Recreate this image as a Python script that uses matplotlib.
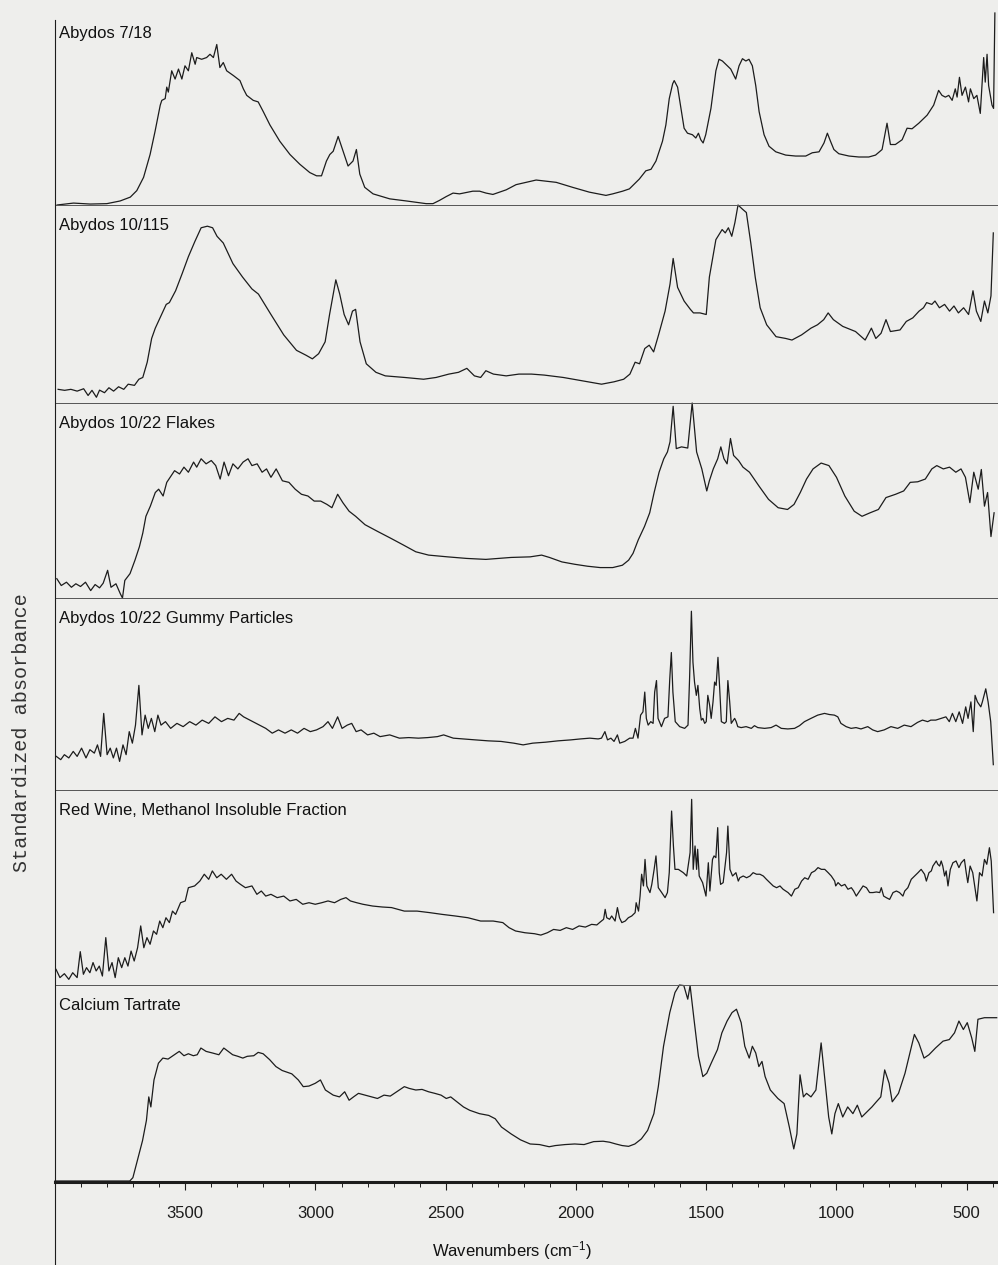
import numpy as np
import matplotlib
matplotlib.use("Agg")
import matplotlib.pyplot as plt
from matplotlib.lines import Line2D
from matplotlib.ticker import MultipleLocator

plt.rcParams['font.family'] = ['Liberation Sans', 'DejaVu Sans']
plt.rcParams['mathtext.fontset'] = 'custom'
plt.rcParams['mathtext.rm'] = 'Liberation Sans'
plt.rcParams['mathtext.it'] = 'Liberation Sans:italic'

# spectra: wavenumber (cm-1) and standardized absorbance (0..1 within panel)
p1_wn = [3992, 3929, 3865, 3801, 3750, 3711, 3686, 3660, 3635, 3616, 3596, 3590, 3577, 3571, 3565,
         3552, 3539, 3526, 3513, 3501, 3488, 3475, 3462, 3456, 3437, 3418, 3405, 3392, 3379, 3367,
         3354, 3341, 3315, 3290, 3277, 3264, 3239, 3220, 3200, 3175, 3137, 3098, 3060, 3022, 2996,
         2977, 2958, 2945, 2932, 2913, 2894, 2875, 2856, 2843, 2830, 2811, 2779, 2715, 2651, 2575,
         2549, 2524, 2498, 2472, 2447, 2396, 2370, 2345, 2319, 2268, 2230, 2153, 2076, 2013, 1949,
         1885, 1859, 1821, 1795, 1757, 1732, 1712, 1693, 1668, 1655, 1642, 1629, 1623, 1610, 1597,
         1585, 1572, 1553, 1540, 1530, 1521, 1512, 1502, 1482, 1463, 1451, 1438, 1425, 1406, 1387,
         1374, 1361, 1348, 1336, 1323, 1310, 1297, 1278, 1259, 1233, 1195, 1157, 1118, 1093, 1067,
         1048, 1035, 1023, 1010, 991, 952, 914, 876, 850, 825, 806, 793, 774, 748, 729,
         710, 684, 652, 627, 608, 595, 582, 569, 556, 544, 537, 528, 518, 505, 493,
         486, 473, 461, 448, 435, 429, 422, 416, 403, 397, 392]
p1_abs = [0.000, 0.010, 0.005, 0.007, 0.021, 0.041, 0.075, 0.144, 0.263, 0.383, 0.520, 0.545, 0.554, 0.614, 0.588,
          0.699, 0.656, 0.708, 0.656, 0.725, 0.699, 0.793, 0.733, 0.768, 0.759, 0.768, 0.785, 0.768, 0.836, 0.716,
          0.742, 0.699, 0.674, 0.648, 0.605, 0.571, 0.545, 0.537, 0.485, 0.417, 0.332, 0.263, 0.212, 0.169, 0.152,
          0.152, 0.229, 0.263, 0.280, 0.357, 0.280, 0.203, 0.229, 0.289, 0.161, 0.092, 0.058, 0.032, 0.021, 0.007,
          0.007, 0.024, 0.044, 0.062, 0.058, 0.072, 0.072, 0.062, 0.055, 0.079, 0.106, 0.130, 0.118, 0.092, 0.067,
          0.050, 0.058, 0.072, 0.084, 0.135, 0.178, 0.186, 0.229, 0.332, 0.417, 0.554, 0.631, 0.648, 0.614, 0.503,
          0.400, 0.374, 0.366, 0.349, 0.374, 0.340, 0.323, 0.366, 0.503, 0.699, 0.759, 0.750, 0.733, 0.708, 0.656,
          0.725, 0.762, 0.750, 0.759, 0.725, 0.622, 0.486, 0.366, 0.306, 0.277, 0.260, 0.255, 0.255, 0.272, 0.277,
          0.323, 0.374, 0.332, 0.289, 0.267, 0.255, 0.250, 0.250, 0.260, 0.289, 0.426, 0.315, 0.315, 0.340, 0.400,
          0.397, 0.426, 0.468, 0.520, 0.597, 0.571, 0.562, 0.571, 0.545, 0.605, 0.562, 0.665, 0.571, 0.614, 0.537,
          0.605, 0.554, 0.571, 0.477, 0.768, 0.640, 0.785, 0.622, 0.520, 0.503, 1.000]

p2_wn = [3988, 3963, 3939, 3915, 3890, 3873, 3858, 3841, 3829, 3810, 3793, 3775, 3756, 3736, 3719,
         3695, 3678, 3663, 3646, 3629, 3615, 3597, 3573, 3561, 3537, 3512, 3488, 3463, 3439, 3415,
         3395, 3378, 3354, 3317, 3280, 3244, 3219, 3171, 3122, 3073, 3036, 3012, 2988, 2963, 2946,
         2932, 2922, 2907, 2890, 2873, 2858, 2846, 2829, 2805, 2768, 2732, 2658, 2585, 2537, 2488,
         2451, 2419, 2390, 2366, 2346, 2317, 2268, 2219, 2171, 2122, 2049, 1976, 1902, 1854, 1817,
         1793, 1773, 1756, 1736, 1719, 1702, 1683, 1658, 1639, 1627, 1610, 1585, 1561, 1549, 1524,
         1500, 1488, 1463, 1439, 1427, 1415, 1402, 1390, 1378, 1361, 1346, 1329, 1312, 1293, 1268,
         1232, 1195, 1171, 1134, 1098, 1073, 1049, 1032, 1012, 976, 927, 890, 866, 849, 829,
         810, 793, 756, 732, 707, 683, 666, 654, 634, 622, 605, 585, 566, 549, 532,
         512, 493, 476, 463, 446, 432, 419, 407, 398]
p2_abs = [0.069, 0.064, 0.069, 0.060, 0.072, 0.038, 0.064, 0.029, 0.065, 0.052, 0.077, 0.060, 0.082, 0.069, 0.095,
          0.089, 0.120, 0.129, 0.206, 0.326, 0.378, 0.430, 0.498, 0.507, 0.567, 0.653, 0.739, 0.816, 0.885, 0.893,
          0.885, 0.842, 0.808, 0.704, 0.636, 0.576, 0.550, 0.447, 0.344, 0.266, 0.241, 0.223, 0.249, 0.309, 0.447,
          0.550, 0.622, 0.550, 0.447, 0.395, 0.464, 0.473, 0.309, 0.198, 0.155, 0.137, 0.129, 0.120, 0.129, 0.146,
          0.155, 0.175, 0.137, 0.129, 0.163, 0.146, 0.137, 0.146, 0.146, 0.141, 0.129, 0.112, 0.095, 0.107, 0.120,
          0.146, 0.206, 0.198, 0.275, 0.292, 0.258, 0.344, 0.464, 0.601, 0.730, 0.584, 0.515, 0.473, 0.455, 0.455,
          0.447, 0.636, 0.825, 0.876, 0.859, 0.885, 0.842, 0.911, 1.000, 0.979, 0.962, 0.808, 0.636, 0.481, 0.395,
          0.335, 0.326, 0.318, 0.344, 0.378, 0.395, 0.421, 0.455, 0.421, 0.387, 0.361, 0.318, 0.378, 0.326, 0.352,
          0.421, 0.361, 0.369, 0.412, 0.430, 0.464, 0.481, 0.507, 0.498, 0.515, 0.481, 0.498, 0.464, 0.490, 0.455,
          0.481, 0.447, 0.567, 0.464, 0.412, 0.515, 0.455, 0.541, 0.859]

p3_wn = [3993, 3976, 3956, 3937, 3920, 3902, 3883, 3863, 3846, 3829, 3815, 3798, 3785, 3766, 3749,
         3741, 3732, 3712, 3693, 3676, 3663, 3651, 3634, 3615, 3602, 3585, 3571, 3554, 3541, 3522,
         3505, 3488, 3468, 3456, 3439, 3420, 3400, 3383, 3366, 3351, 3334, 3317, 3298, 3278, 3259,
         3244, 3224, 3205, 3188, 3171, 3151, 3127, 3102, 3078, 3054, 3029, 3005, 2980, 2956, 2937,
         2915, 2895, 2871, 2846, 2810, 2761, 2712, 2663, 2615, 2566, 2493, 2420, 2346, 2249, 2176,
         2132, 2102, 2054, 2005, 1956, 1907, 1859, 1822, 1798, 1781, 1761, 1737, 1717, 1700, 1681,
         1663, 1649, 1639, 1627, 1615, 1595, 1571, 1554, 1537, 1517, 1498, 1488, 1473, 1456, 1444,
         1432, 1420, 1407, 1395, 1376, 1359, 1334, 1298, 1261, 1224, 1188, 1163, 1139, 1115, 1090,
         1059, 1029, 1000, 968, 932, 902, 871, 839, 810, 773, 742, 717, 688, 659, 634,
         615, 590, 566, 542, 522, 505, 488, 473, 456, 444, 432, 420, 407, 395]
p3_abs = [0.099, 0.064, 0.081, 0.055, 0.073, 0.059, 0.081, 0.038, 0.069, 0.052, 0.076, 0.142, 0.055, 0.073, 0.021,
          0.000, 0.090, 0.125, 0.194, 0.263, 0.333, 0.419, 0.471, 0.541, 0.558, 0.523, 0.593, 0.627, 0.653, 0.636,
          0.671, 0.645, 0.697, 0.671, 0.714, 0.688, 0.705, 0.679, 0.610, 0.697, 0.627, 0.688, 0.662, 0.697, 0.714,
          0.679, 0.688, 0.645, 0.662, 0.619, 0.662, 0.601, 0.593, 0.558, 0.532, 0.523, 0.497, 0.497, 0.480, 0.463,
          0.532, 0.489, 0.445, 0.419, 0.376, 0.341, 0.307, 0.272, 0.237, 0.220, 0.211, 0.203, 0.198, 0.208, 0.211,
          0.220, 0.208, 0.185, 0.173, 0.163, 0.156, 0.156, 0.168, 0.194, 0.229, 0.298, 0.367, 0.437, 0.541, 0.645,
          0.714, 0.749, 0.801, 0.983, 0.766, 0.775, 0.769, 1.000, 0.749, 0.662, 0.549, 0.601, 0.662, 0.714, 0.775,
          0.714, 0.688, 0.818, 0.731, 0.705, 0.671, 0.645, 0.575, 0.506, 0.463, 0.454, 0.480, 0.541, 0.610, 0.662,
          0.692, 0.679, 0.619, 0.523, 0.445, 0.419, 0.437, 0.454, 0.515, 0.532, 0.549, 0.593, 0.596, 0.610, 0.662,
          0.679, 0.662, 0.671, 0.645, 0.662, 0.619, 0.489, 0.645, 0.558, 0.659, 0.471, 0.541, 0.315, 0.437]

p4_wn = [3995, 3978, 3964, 3947, 3930, 3915, 3898, 3881, 3866, 3849, 3837, 3825, 3813, 3800, 3788,
         3776, 3764, 3752, 3739, 3727, 3715, 3703, 3691, 3678, 3666, 3654, 3642, 3630, 3617, 3605,
         3593, 3576, 3556, 3532, 3508, 3483, 3459, 3435, 3410, 3386, 3361, 3337, 3313, 3293, 3276,
         3252, 3215, 3191, 3166, 3142, 3117, 3093, 3069, 3044, 3020, 2996, 2971, 2952, 2935, 2915,
         2898, 2878, 2861, 2844, 2825, 2800, 2776, 2752, 2715, 2678, 2642, 2605, 2569, 2532, 2508,
         2471, 2435, 2386, 2337, 2288, 2239, 2203, 2166, 2117, 2069, 2020, 1983, 1947, 1915, 1902,
         1889, 1879, 1866, 1854, 1841, 1832, 1813, 1794, 1781, 1772, 1762, 1752, 1743, 1736, 1730,
         1723, 1713, 1704, 1698, 1691, 1685, 1672, 1660, 1647, 1640, 1634, 1628, 1619, 1602, 1583,
         1570, 1564, 1557, 1551, 1545, 1538, 1532, 1525, 1519, 1513, 1506, 1500, 1494, 1487, 1481,
         1474, 1468, 1462, 1455, 1449, 1442, 1430, 1423, 1417, 1410, 1404, 1391, 1385, 1379, 1366,
         1347, 1327, 1315, 1302, 1276, 1251, 1232, 1212, 1187, 1161, 1142, 1123, 1098, 1072, 1046,
         1027, 1008, 995, 983, 963, 944, 925, 906, 880, 861, 842, 817, 791, 765, 740,
         714, 689, 670, 650, 638, 619, 599, 580, 567, 555, 542, 529, 516, 504, 495,
         484, 475, 468, 459, 446, 440, 427, 418, 408, 398]
p4_abs = [0.175, 0.158, 0.184, 0.167, 0.201, 0.175, 0.218, 0.167, 0.210, 0.192, 0.235, 0.175, 0.399, 0.184, 0.218,
          0.167, 0.218, 0.149, 0.235, 0.184, 0.304, 0.244, 0.338, 0.545, 0.287, 0.390, 0.321, 0.373, 0.304, 0.390,
          0.338, 0.356, 0.321, 0.347, 0.330, 0.356, 0.338, 0.364, 0.347, 0.381, 0.356, 0.373, 0.364, 0.399, 0.381,
          0.364, 0.338, 0.321, 0.296, 0.313, 0.296, 0.313, 0.296, 0.321, 0.304, 0.313, 0.330, 0.356, 0.321, 0.381,
          0.321, 0.338, 0.347, 0.304, 0.313, 0.287, 0.296, 0.278, 0.287, 0.270, 0.273, 0.270, 0.273, 0.278, 0.287,
          0.270, 0.266, 0.261, 0.256, 0.253, 0.244, 0.235, 0.244, 0.249, 0.256, 0.261, 0.266, 0.270, 0.266, 0.270,
          0.304, 0.261, 0.270, 0.253, 0.287, 0.244, 0.253, 0.270, 0.270, 0.321, 0.270, 0.390, 0.407, 0.510, 0.373,
          0.338, 0.356, 0.347, 0.510, 0.570, 0.373, 0.330, 0.373, 0.381, 0.579, 0.716, 0.510, 0.356, 0.330, 0.321,
          0.338, 0.579, 0.931, 0.665, 0.562, 0.493, 0.545, 0.424, 0.364, 0.373, 0.347, 0.356, 0.493, 0.442, 0.373,
          0.459, 0.562, 0.545, 0.691, 0.545, 0.356, 0.347, 0.356, 0.570, 0.459, 0.347, 0.373, 0.356, 0.330, 0.325,
          0.330, 0.321, 0.335, 0.325, 0.321, 0.325, 0.338, 0.321, 0.318, 0.321, 0.335, 0.356, 0.373, 0.390, 0.399,
          0.393, 0.390, 0.381, 0.347, 0.330, 0.321, 0.325, 0.318, 0.330, 0.313, 0.304, 0.313, 0.330, 0.321, 0.338,
          0.330, 0.352, 0.364, 0.356, 0.364, 0.364, 0.373, 0.381, 0.356, 0.399, 0.356, 0.407, 0.347, 0.433, 0.373,
          0.459, 0.304, 0.493, 0.459, 0.433, 0.459, 0.527, 0.459, 0.356, 0.132]

p5_wn = [3996, 3981, 3964, 3947, 3932, 3915, 3903, 3891, 3879, 3866, 3854, 3842, 3830, 3818, 3805,
         3793, 3781, 3769, 3757, 3744, 3732, 3720, 3708, 3696, 3683, 3671, 3659, 3647, 3635, 3622,
         3610, 3598, 3586, 3574, 3561, 3549, 3537, 3518, 3500, 3488, 3464, 3444, 3427, 3410, 3396,
         3379, 3362, 3342, 3322, 3305, 3288, 3269, 3244, 3225, 3208, 3191, 3171, 3147, 3122, 3098,
         3074, 3049, 3025, 3001, 2976, 2952, 2927, 2903, 2883, 2866, 2842, 2818, 2781, 2744, 2708,
         2659, 2610, 2561, 2513, 2464, 2415, 2366, 2318, 2281, 2257, 2232, 2196, 2159, 2135, 2110,
         2086, 2061, 2037, 2013, 1988, 1964, 1940, 1920, 1907, 1894, 1888, 1882, 1871, 1863, 1850,
         1841, 1833, 1824, 1811, 1799, 1786, 1773, 1769, 1760, 1754, 1748, 1741, 1735, 1728, 1722,
         1716, 1709, 1700, 1693, 1684, 1671, 1658, 1649, 1642, 1633, 1626, 1620, 1607, 1588, 1575,
         1562, 1556, 1550, 1543, 1537, 1533, 1527, 1514, 1501, 1492, 1486, 1476, 1470, 1463, 1456,
         1450, 1445, 1435, 1422, 1417, 1409, 1399, 1386, 1377, 1371, 1358, 1345, 1332, 1320, 1307,
         1294, 1281, 1269, 1256, 1243, 1230, 1217, 1205, 1186, 1173, 1160, 1147, 1134, 1122, 1109,
         1096, 1083, 1071, 1058, 1045, 1032, 1020, 1007, 1003, 994, 981, 968, 956, 943, 934,
         924, 911, 898, 885, 873, 860, 847, 834, 828, 819, 809, 796, 783, 770, 758,
         745, 738, 726, 713, 700, 687, 675, 662, 655, 645, 636, 630, 617, 611, 604,
         598, 592, 585, 579, 572, 563, 553, 541, 530, 521, 509, 502, 496, 487, 477,
         461, 451, 441, 432, 423, 413, 406, 397]
p5_abs = [0.080, 0.038, 0.058, 0.029, 0.063, 0.038, 0.171, 0.055, 0.089, 0.063, 0.115, 0.072, 0.097, 0.046, 0.243,
          0.072, 0.115, 0.038, 0.140, 0.089, 0.140, 0.097, 0.174, 0.123, 0.191, 0.303, 0.191, 0.243, 0.209, 0.277,
          0.260, 0.328, 0.294, 0.345, 0.320, 0.379, 0.362, 0.422, 0.431, 0.499, 0.508, 0.533, 0.568, 0.542, 0.585,
          0.550, 0.568, 0.542, 0.568, 0.533, 0.516, 0.499, 0.508, 0.465, 0.482, 0.456, 0.465, 0.448, 0.456, 0.431,
          0.439, 0.414, 0.422, 0.414, 0.422, 0.431, 0.422, 0.439, 0.448, 0.431, 0.422, 0.414, 0.405, 0.400, 0.397,
          0.379, 0.379, 0.371, 0.362, 0.354, 0.345, 0.328, 0.328, 0.320, 0.294, 0.277, 0.268, 0.263, 0.256, 0.268,
          0.285, 0.280, 0.294, 0.285, 0.303, 0.297, 0.311, 0.308, 0.323, 0.337, 0.388, 0.345, 0.337, 0.354, 0.328,
          0.397, 0.345, 0.320, 0.328, 0.345, 0.354, 0.371, 0.422, 0.379, 0.456, 0.568, 0.508, 0.644, 0.508, 0.491,
          0.474, 0.516, 0.593, 0.662, 0.499, 0.474, 0.448, 0.474, 0.576, 0.892, 0.713, 0.593, 0.593, 0.576, 0.559,
          0.679, 0.952, 0.593, 0.713, 0.593, 0.696, 0.559, 0.525, 0.456, 0.627, 0.482, 0.644, 0.662, 0.653, 0.807,
          0.576, 0.516, 0.525, 0.679, 0.815, 0.593, 0.559, 0.576, 0.533, 0.550, 0.559, 0.550, 0.559, 0.576, 0.568,
          0.568, 0.559, 0.542, 0.525, 0.508, 0.499, 0.508, 0.491, 0.474, 0.456, 0.491, 0.499, 0.533, 0.550, 0.542,
          0.576, 0.585, 0.602, 0.593, 0.593, 0.576, 0.559, 0.533, 0.508, 0.525, 0.508, 0.516, 0.491, 0.499, 0.482,
          0.456, 0.482, 0.508, 0.499, 0.474, 0.474, 0.477, 0.474, 0.499, 0.456, 0.448, 0.439, 0.474, 0.482, 0.474,
          0.456, 0.482, 0.499, 0.542, 0.559, 0.576, 0.593, 0.568, 0.533, 0.576, 0.585, 0.610, 0.636, 0.619, 0.610,
          0.636, 0.610, 0.559, 0.585, 0.508, 0.593, 0.627, 0.636, 0.602, 0.627, 0.644, 0.576, 0.525, 0.610, 0.576,
          0.431, 0.576, 0.559, 0.644, 0.619, 0.704, 0.636, 0.371]

p6_wn = [4000, 3859, 3713, 3701, 3684, 3664, 3649, 3640, 3632, 3620, 3603, 3586, 3566, 3547, 3523,
         3505, 3488, 3469, 3454, 3440, 3420, 3396, 3371, 3352, 3335, 3318, 3298, 3279, 3262, 3237,
         3220, 3201, 3176, 3152, 3128, 3091, 3066, 3047, 3025, 3001, 2981, 2962, 2932, 2908, 2888,
         2871, 2854, 2835, 2810, 2786, 2762, 2737, 2713, 2688, 2659, 2640, 2615, 2591, 2566, 2542,
         2518, 2498, 2481, 2457, 2432, 2408, 2371, 2335, 2310, 2286, 2249, 2213, 2176, 2140, 2103,
         2079, 2042, 2005, 1969, 1932, 1896, 1871, 1847, 1823, 1798, 1774, 1749, 1725, 1701, 1684,
         1664, 1640, 1620, 1603, 1586, 1571, 1562, 1547, 1530, 1513, 1498, 1481, 1457, 1440, 1420,
         1401, 1384, 1366, 1352, 1335, 1323, 1310, 1298, 1286, 1274, 1254, 1225, 1201, 1181, 1164,
         1152, 1140, 1127, 1115, 1098, 1079, 1059, 1042, 1030, 1018, 1006, 993, 976, 957, 937,
         920, 903, 883, 864, 847, 830, 815, 798, 786, 762, 737, 718, 701, 684, 664,
         645, 620, 591, 567, 547, 530, 513, 498, 481, 469, 457, 432, 385]
p6_abs = [0.005, 0.005, 0.005, 0.022, 0.108, 0.210, 0.313, 0.432, 0.381, 0.518, 0.603, 0.629, 0.624, 0.641, 0.663,
          0.641, 0.651, 0.641, 0.646, 0.680, 0.663, 0.655, 0.646, 0.680, 0.663, 0.646, 0.638, 0.629, 0.638, 0.641,
          0.658, 0.651, 0.621, 0.586, 0.566, 0.549, 0.518, 0.484, 0.487, 0.501, 0.518, 0.467, 0.441, 0.432, 0.458,
          0.415, 0.432, 0.450, 0.441, 0.432, 0.424, 0.441, 0.436, 0.458, 0.484, 0.475, 0.467, 0.470, 0.458, 0.450,
          0.441, 0.424, 0.432, 0.407, 0.381, 0.364, 0.347, 0.338, 0.321, 0.279, 0.244, 0.214, 0.193, 0.190, 0.179,
          0.185, 0.190, 0.193, 0.190, 0.205, 0.207, 0.202, 0.193, 0.185, 0.181, 0.193, 0.219, 0.262, 0.347, 0.484,
          0.689, 0.860, 0.962, 1.000, 0.997, 0.928, 0.997, 0.826, 0.638, 0.535, 0.552, 0.603, 0.672, 0.757, 0.817,
          0.860, 0.877, 0.809, 0.689, 0.629, 0.689, 0.655, 0.586, 0.612, 0.535, 0.467, 0.424, 0.398, 0.279, 0.168,
          0.244, 0.544, 0.432, 0.450, 0.432, 0.467, 0.706, 0.484, 0.330, 0.244, 0.347, 0.398, 0.330, 0.381, 0.347,
          0.390, 0.330, 0.356, 0.381, 0.407, 0.432, 0.569, 0.501, 0.407, 0.450, 0.552, 0.655, 0.749, 0.706, 0.629,
          0.646, 0.680, 0.715, 0.723, 0.757, 0.817, 0.774, 0.809, 0.732, 0.663, 0.826, 0.834, 0.834]

panel_names = ["Abydos 7/18", "Abydos 10/115", "Abydos 10/22 Flakes",
               "Abydos 10/22 Gummy Particles", "Red Wine, Methanol Insoluble Fraction",
               "Calcium Tartrate"]
spectra = [(p1_wn, p1_abs), (p2_wn, p2_abs), (p3_wn, p3_abs),
           (p4_wn, p4_abs), (p5_wn, p5_abs), (p6_wn, p6_abs)]
major_ticks = [3500, 3000, 2500, 2000, 1500, 1000, 500]

W, H = 998, 1265
paper = "#eeeeec"
ink = "#1c1c1c"

fig = plt.figure(figsize=(W / 100, H / 100), dpi=100, facecolor=paper)

left_px, right_px = 55, 998
tops = [13, 205, 403, 598, 790, 985]
bottoms = [205, 403, 598, 790, 985, 1182]

for i, (name, (wn, ab)) in enumerate(zip(panel_names, spectra)):
    t, b = tops[i], bottoms[i]
    ax = fig.add_axes([left_px / W, 1 - b / H, (right_px - left_px) / W, (b - t) / H])
    ax.set_facecolor("none")
    ax.plot(wn, ab, color=ink, lw=0.9, clip_on=False)
    ax.set_xlim(4000, 380)
    ax.set_ylim(0, 1)
    for s in ax.spines.values():
        s.set_visible(False)
    ax.set_yticks([])
    if i > 0:
        ax.axhline(1.0, color="#555555", lw=0.7)
    ax.annotate(name, xy=(0, 1), xycoords="axes fraction", xytext=(3, -14.5),
                textcoords="offset points", ha="left", va="center",
                fontsize=12, color="#111111")
    if i == len(panel_names) - 1:
        ax.spines["bottom"].set_visible(True)
        ax.spines["bottom"].set_linewidth(2.2)
        ax.spines["bottom"].set_color(ink)
        ax.set_xticks(major_ticks)
        ax.set_xticklabels([str(v) for v in major_ticks])
        ax.xaxis.set_minor_locator(MultipleLocator(100))
        ax.tick_params(axis="x", which="major", direction="out", length=6,
                       width=0.8, pad=11, labelsize=12, colors=ink)
        ax.tick_params(axis="x", which="minor", direction="out", length=3.5,
                       width=0.7, colors=ink)
    else:
        ax.set_xticks([])

# long left frame line, runs past the axis like in the scan
fig.add_artist(Line2D([left_px / W, left_px / W], [1 - 20 / H, 0],
                      transform=fig.transFigure, color=ink, lw=0.8))

fig.text(512 / W, 1 - 1251 / H, "Wavenumbers (cm$^{-1}$)", ha="center", va="center",
         fontsize=12, color="#111111")
fig.text(22 / W, 1 - 733 / H, "Standardized absorbance", rotation=90,
         family=["Liberation Mono", "DejaVu Sans Mono"], fontsize=14.5,
         ha="center", va="center", color="#333333")

fig.savefig("out.png", dpi=100, facecolor=fig.get_facecolor())
